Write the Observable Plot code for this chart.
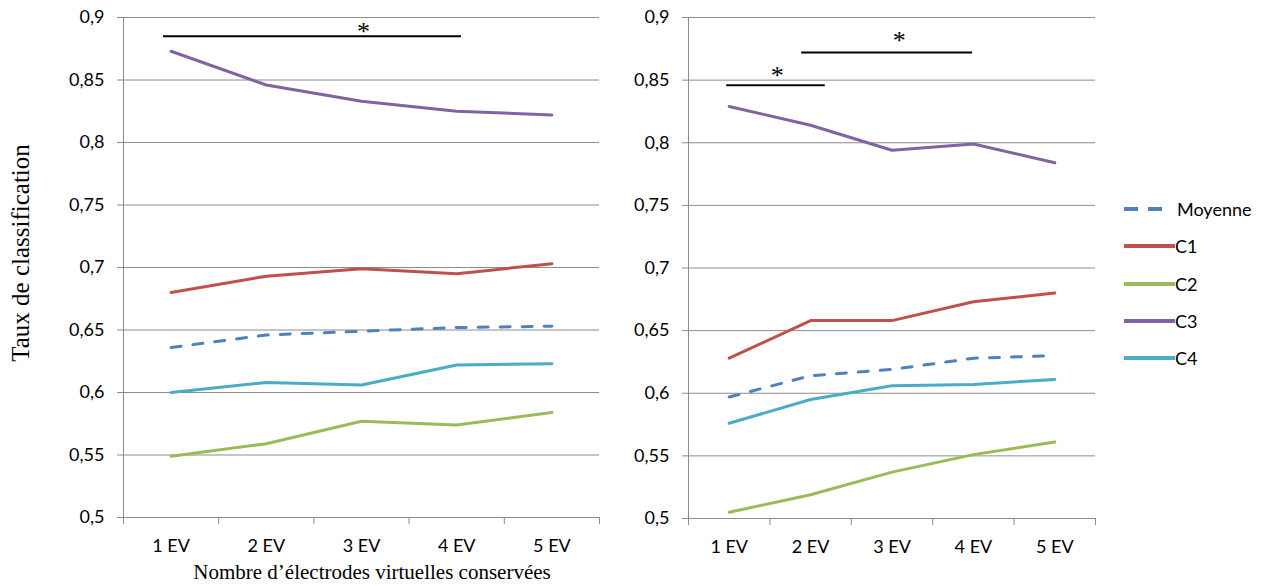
<!DOCTYPE html>
<html>
<head>
<meta charset="utf-8">
<script src="https://cdn.jsdelivr.net/npm/d3@7"></script>
<script src="https://cdn.jsdelivr.net/npm/@observablehq/plot@0.6"></script>
<style>
  html, body { margin: 0; padding: 0; background: #fff; }
  #wrap { position: relative; width: 1273px; height: 586px; overflow: hidden; }
  .panel { position: absolute; top: 0; }
  .ylab { position: absolute; left: 21px; top: 253px; transform: translate(-50%, -50%) rotate(-90deg);
          font-family: "Liberation Serif", serif; font-size: 25px; white-space: nowrap; color: #000; }
  .xlab { position: absolute; left: 372px; top: 572px; transform: translate(-50%, -50%);
          font-family: "Liberation Serif", serif; font-size: 21px; white-space: nowrap; color: #000; }
  #legend { position: absolute; left: 1120px; top: 197px; font-family: Lato, sans-serif; font-size: 18px; color: #000; }
  #legend .item { position: absolute; left: 0; height: 24px; display: flex; align-items: center; white-space: nowrap; }
  #legend svg { display: block; }
</style>
</head>
<body>
<div id="wrap">
  <div class="panel" id="left" style="left:0px"></div>
  <div class="panel" id="right" style="left:600px"></div>
  <div class="ylab">Taux de classification</div>
  <div class="xlab">Nombre d’électrodes virtuelles conservées</div>
  <div id="legend"></div>
</div>
<script>
// ---- data ----
const categories = ["1 EV", "2 EV", "3 EV", "4 EV", "5 EV"];
const seriesNames = ["Moyenne", "C1", "C2", "C3", "C4"];
const seriesColors = ["#4F81BD", "#C0504D", "#9BBB59", "#8064A2", "#4BACC6"];
const yTicks = [0.5, 0.55, 0.6, 0.65, 0.7, 0.75, 0.8, 0.85, 0.9];

const leftMoyenne = [0.636, 0.646, 0.649, 0.652, 0.653];
const leftC1 = [0.680, 0.693, 0.699, 0.695, 0.703];
const leftC2 = [0.549, 0.559, 0.577, 0.574, 0.584];
const leftC3 = [0.873, 0.846, 0.833, 0.825, 0.822];
const leftC4 = [0.600, 0.608, 0.606, 0.622, 0.623];

const rightMoyenne = [0.597, 0.614, 0.619, 0.628, 0.630];
const rightC1 = [0.628, 0.658, 0.658, 0.673, 0.680];
const rightC2 = [0.505, 0.519, 0.537, 0.551, 0.561];
const rightC3 = [0.829, 0.814, 0.794, 0.799, 0.784];
const rightC4 = [0.576, 0.595, 0.606, 0.607, 0.611];

// significance bars (in category-index / value units)
const sigLeft = [{from: 0.92, to: 4.05, y: 0.885, starX: 3.02, starY: 0.891}];
const sigRight = [
  {from: 0.97, to: 2.18, y: 0.846, starX: 1.59, starY: 0.856},
  {from: 1.89, to: 3.99, y: 0.872, starX: 3.09, starY: 0.884}
];

// ---- build ----
function toLong(arrs) {
  const out = [];
  seriesNames.forEach((s, si) => {
    arrs[si].forEach((v, i) => out.push({series: s, x: i + 1, cat: categories[i], y: v}));
  });
  return out;
}
const leftData = toLong([leftMoyenne, leftC1, leftC2, leftC3, leftC4]);
const rightData = toLong([rightMoyenne, rightC1, rightC2, rightC3, rightC4]);

const grid = "#8c8c8c";
const fmt = d => String(+d.toFixed(2)).replace(".", ",");
const bounds = d3.range(categories.length + 1).map(i => i + 0.5);

function panel({width, marginLeft, marginRight, marginBottom, data, sig}) {
  return Plot.plot({
    width, height: 586, marginLeft, marginRight, marginTop: 17, marginBottom,
    style: {fontFamily: "Lato, sans-serif", fontSize: "18px", color: "#000", background: "transparent", overflow: "visible"},
    x: {domain: [0.5, categories.length + 0.5], label: null},
    y: {domain: [0.5, 0.9], label: null},
    color: {domain: seriesNames, range: seriesColors},
    marks: [
      Plot.ruleY(yTicks, {stroke: grid, strokeWidth: 1}),
      Plot.ruleX([0.5], {stroke: grid, strokeWidth: 1}),
      Plot.axisY({ticks: yTicks, tickSize: 6, tickPadding: 13, tickFormat: fmt, stroke: grid, fontSize: 18}),
      Plot.axisX({ticks: bounds, tickSize: 7, tickFormat: () => "", stroke: grid}),
      Plot.axisX({ticks: d3.range(1, categories.length + 1), tickSize: 0, tickPadding: 22,
                  tickFormat: d => categories[d - 1], fontSize: 18}),
      Plot.line(data.filter(d => d.series === "Moyenne"),
        {x: "x", y: "y", stroke: "series", strokeWidth: 3, strokeDasharray: "10,12", strokeLinecap: "round"}),
      Plot.line(data.filter(d => d.series !== "Moyenne"),
        {x: "x", y: "y", z: "series", stroke: "series", strokeWidth: 3}),
      Plot.ruleY(sig, {x1: "from", x2: "to", y: "y", stroke: "#000", strokeWidth: 2}),
      Plot.text(sig, {x: "starX", y: "starY", text: () => "*", fontFamily: "Liberation Serif, serif",
                      fontSize: 26, dy: 3, fill: "#000"})
    ]
  });
}

document.getElementById("left").append(panel({width: 610, marginLeft: 123, marginRight: 11, marginBottom: 69, data: leftData, sig: sigLeft}));
document.getElementById("right").append(panel({width: 500, marginLeft: 88, marginRight: 5, marginBottom: 68, data: rightData, sig: sigRight}));

// legend
const legendTops = [0, 37, 75, 112, 149];
const legend = document.getElementById("legend");
seriesNames.forEach((s, i) => {
  const item = document.createElement("div");
  item.className = "item";
  item.style.top = legendTops[i] + "px";
  const dashed = s === "Moyenne";
  item.innerHTML = `<svg width="${dashed ? 57 : 55}" height="24"><line x1="4" x2="${dashed ? 43 : 55}" y1="12" y2="12" stroke="${seriesColors[i]}" stroke-width="4" ${dashed ? 'stroke-dasharray="14,10"' : ''}/></svg><span>${s}</span>`;
  legend.append(item);
});
</script>
</body>
</html>
